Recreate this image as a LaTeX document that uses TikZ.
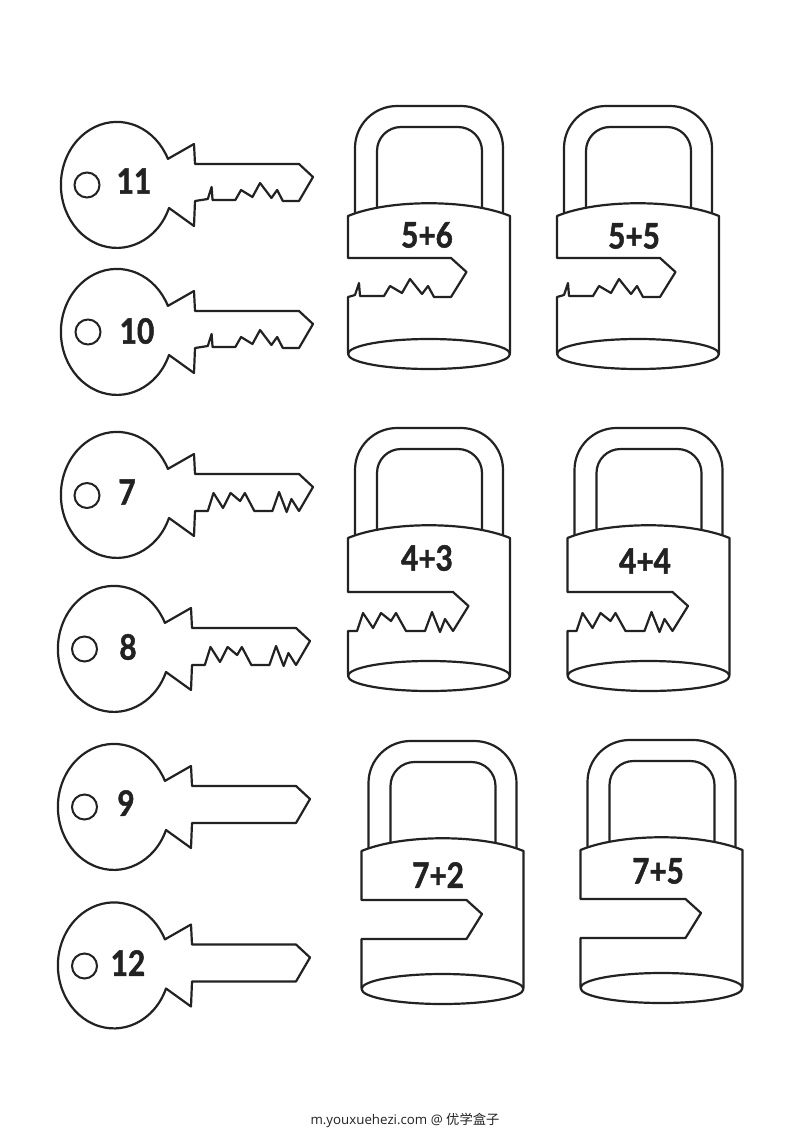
\documentclass[tikz,border=0pt]{standalone}
\usepackage{fontspec}
\setmainfont{Open Sans}
\newfontfamily\numfont[FakeStretch=0.85, FakeBold=1.4]{Lato}
\newfontfamily\cjkfont{Noto Sans CJK SC}
\usetikzlibrary{calc}

\definecolor{inkcol}{HTML}{222222}
\tikzset{
  outline/.style={draw=inkcol, line width=2.2pt, line join=round, fill=white},
  numlabel/.style={text=inkcol, inner sep=0pt, font=\numfont\bfseries\fontsize{35}{35}\selectfont},
  keyhole/.style={circle, draw=inkcol, line width=2pt, inner sep=0pt, minimum size=25pt}
}

\newcommand{\teethwave}{-- ++(\tw*-17,0) -- ++(\tw*-6,-11) -- ++(\tw*-6,8) -- ++(\tw*-12,-15) -- ++(\tw*-8,14) -- ++(\tw*-12,-7) -- ++(\tw*-6,10) -- ++(\tw*-24,0) -- ++(\tw*-1,-13) -- ++(\tw*-4,12)}
\newcommand{\teethgap}{-- ++(\tw*-8,-12) -- ++(\tw*-5,13) -- ++(\tw*-8,-20) -- ++(\tw*-7,19) -- ++(\tw*-19,0) -- ++(\tw*-10,-18) -- ++(\tw*-5,8) -- ++(\tw*-10,-8) -- ++(\tw*-8,15) -- ++(\tw*-10,-15) -- ++(\tw*-6,18)}
\newcommand{\teethnone}{}

% x, y, teeth
\newcommand{\keyshape}[3]{
  \begin{scope}[shift={(#1,#2)}]
    \def\tw{0.95}
    \draw[outline] (51,23) arc[start angle=21.5, end angle=335.6, x radius=56, y radius=63]
      -- (76,-41) -- (77,-21) -- (181,-21) -- (195,-8) -- (181,16) #3 -- (77,16) -- (76,41) -- cycle;
  \end{scope}
}
% x, y, slot top, shoulder, teeth
\newcommand{\lockshape}[5]{
  \begin{scope}[shift={(#1,#2)}]
    \def\tw{1}
    \draw[outline, rounded corners=42pt] (-74,20) -- (-74,-97) -- (74,-97) -- (74,20);
    \draw[outline, rounded corners=24pt] (-52,20) -- (-52,-76) -- (53,-76) -- (53,20);
    \draw[outline] (81,150) -- (81,13) .. controls (40,-4) and (-40,-4) .. (-81,13)
      -- (-81,#3) -- (#4,#3) -- (#4+15.5,#3+14) -- (#4,#3+39) #5 -- (-81,#3+39) -- (-81,150);
    \draw[outline] (0,151) ellipse[x radius=81, y radius=15];
  \end{scope}
}

\begin{document}
\begin{tikzpicture}[x=1pt, y=-1pt]
  \useasboundingbox (0,0) rectangle (800,1132);
  \fill[white] (0,0) rectangle (800,1132);

  \keyshape{118}{185}{\teethwave}
  \keyshape{118}{332}{\teethwave}
  \keyshape{118}{495}{\teethgap}
  \keyshape{115}{649}{\teethgap}
  \keyshape{115}{807}{\teethnone}
  \keyshape{115}{965.5}{\teethnone}

  \node[keyhole] (hole11) at (87,185) {};
  \node[keyhole] (hole10) at (88,332) {};
  \node[keyhole] (hole7) at (87,495.5) {};
  \node[keyhole] (hole8) at (84.5,649) {};
  \node[keyhole] (hole9) at (84.5,807) {};
  \node[keyhole] (hole12) at (84.5,966) {};

  \node[numlabel] (key11) at (134,181) {11};
  \node[numlabel] (key10) at (137,331) {10};
  \node[numlabel] (key7) at (127,492) {7};
  \node[numlabel] (key8) at (128,647) {8};
  \node[numlabel] (key9) at (126,803) {9};
  \node[numlabel] (key12) at (128,963) {12};

  \lockshape{429}{203}{55}{22}{\teethwave}
  \lockshape{638}{203}{55}{22}{\teethwave}
  \lockshape{429}{525}{67}{24}{\teethgap}
  \lockshape{648.5}{525}{67}{24}{\teethgap}
  \lockshape{442.5}{838}{62}{24}{\teethnone}
  \lockshape{661.5}{837}{62}{24}{\teethnone}

  \node[numlabel] (lock56) at (427,235) {5+6};
  \node[numlabel] (lock55) at (634,236) {5+5};
  \node[numlabel] (lock43) at (427,558) {4+3};
  \node[numlabel] (lock44) at (645,561) {4+4};
  \node[numlabel] (lock72) at (438,875) {7+2};
  \node[numlabel] (lock75) at (658,871) {7+5};

  \node[text=inkcol, inner sep=0pt, font=\fontsize{13.3}{13.3}\selectfont] (footer) at (405,1120) {m.youxuehezi.com @ {\cjkfont 优学盒子}};
\end{tikzpicture}
\end{document}
